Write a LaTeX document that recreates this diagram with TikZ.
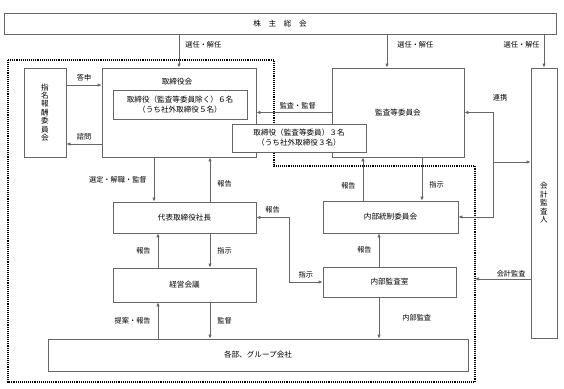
\documentclass[tikz,border=0pt]{standalone}
\usepackage{fontspec}
\setmainfont{Noto Sans CJK JP}
\usetikzlibrary{arrows.meta}

\begin{document}
\begin{tikzpicture}[
        x=1pt, y=-1pt,
        box/.style={draw=black!60, line width=0.7pt, fill=white, inner sep=1pt, align=center,
                    font=\fontsize{7.6}{10.2}\selectfont},
        lbl/.style={inner sep=1pt, font=\fontsize{7.2}{8.5}\selectfont},
        link/.style={draw=black!60, line width=0.7pt},
        >={Latex[length=4pt,width=3.4pt]}
        ]
        \useasboundingbox (0,0) rectangle (564,388);
        \draw[densely dotted, line width=1.1pt] (8,60) -- (274,60) -- (274,166) -- (475,166) -- (475,382) -- (8,382) -- cycle;

        \node[box, minimum width=552pt, minimum height=21pt] (soukai) at (280,23.5) {株　主　総　会};
        \node[box, minimum width=154pt, minimum height=89pt] (board) at (179,112.5) {};
        \node[lbl, font=\fontsize{7.6}{9}\selectfont] (boardlbl) at (177,82) {取締役会};
        \node[box, minimum width=134pt, minimum height=29pt] (inner) at (180,104.5) {取締役（監査等委員除く）６名\\（うち社外取締役５名）};
        \node[box, minimum width=42pt, minimum height=89pt, font=\fontsize{7.6}{8.4}\selectfont] (nomination) at (45,112.5) {指\\名\\報\\酬\\委\\員\\会};
        \node[box, minimum width=132pt, minimum height=89pt] (acm) at (398,112.5) {監査等委員会};
        \node[box, minimum width=134pt, minimum height=28pt] (auditdir) at (299,138) {取締役（監査等委員）３名\\（うち社外取締役３名）};
        \node[box, minimum width=26pt, minimum height=270pt, font=\fontsize{7.6}{8.5}\selectfont] (auditor) at (544,203) {会\\計\\監\\査\\人};
        \node[box, minimum width=143pt, minimum height=31pt] (ceo) at (184.5,217.5) {代表取締役社長};
        \node[box, minimum width=143pt, minimum height=34pt] (mgmt) at (184.5,285) {経営会議};
        \node[box, minimum width=420pt, minimum height=32pt] (depts) at (258,355) {各部、グループ会社};
        \node[box, minimum width=135pt, minimum height=32pt] (icc) at (390.5,217) {内部統制委員会};
        \node[box, minimum width=133pt, minimum height=30pt] (iad) at (389.5,282) {内部監査室};

        \coordinate (cola) at (154,0);
        \coordinate (colb) at (210,0);
        \coordinate (colc) at (158,0);
        \coordinate (cold) at (363,0);
        \coordinate (cole) at (422,0);
        \coordinate (colf) at (379,0);
        \coordinate (colg) at (493,0);
        \coordinate (bendx) at (289,0);
        \coordinate (linkmid) at (493,162);
        \coordinate (auditend) at (475,279);

        \draw[link,->] (board.north |- soukai.south) -- node[lbl,right=5pt,pos=.32]{選任・解任} (board.north);
        \draw[link,->] ([xshift=-11pt]acm.north |- soukai.south) -- node[lbl,right=9pt,pos=.32]{選任・解任} ([xshift=-11pt]acm.north);
        \draw[link,->] (auditor.north |- soukai.south) -- node[lbl,left=3pt,pos=.32]{選任・解任} (auditor.north);

        \draw[link,->] ([yshift=27.5pt]nomination.east) -- node[lbl,above=3pt]{答申} ([yshift=27.5pt]board.west);
        \draw[link,->] ([yshift=-31.5pt]board.west) -- node[lbl,above=3pt]{諮問} ([yshift=-31.5pt]nomination.east);
        \draw[link,->] (acm.west) -- node[lbl,above=2pt,pos=.45]{監査・監督} (board.east);

        \draw[link,->] (board.south -| cola) -- node[lbl,left=6pt]{選定・解職・監督} (ceo.north -| cola);
        \draw[link,->] (ceo.north -| colb) -- node[lbl,right=6pt,pos=.4]{報告} (board.south -| colb);
        \draw[link,->] (mgmt.north -| colc) -- node[lbl,left=6pt]{報告} (ceo.south -| colc);
        \draw[link,->] (ceo.south -| colb) -- node[lbl,right=6pt]{指示} (mgmt.north -| colb);
        \draw[link,->] (depts.north -| colc) -- node[lbl,left=6pt]{提案・報告} (mgmt.south -| colc);
        \draw[link,->] (mgmt.south -| colb) -- node[lbl,right=6pt]{監督} (depts.north -| colb);

        \draw[link,->] (icc.north -| cold) -- node[lbl,left=6pt,pos=.34]{報告} (acm.south -| cold);
        \draw[link,->] (acm.south -| cole) -- node[lbl,right=6pt,pos=.64]{指示} (icc.north -| cole);
        \draw[link,->] (iad.north -| colf) -- node[lbl,left=6pt]{報告} (icc.south -| colf);
        \draw[link,->] (iad.south -| colf) -- node[lbl,right=22pt]{内部監査} (depts.north -| colf);

        \draw[link,<->] (ceo.east) -- node[lbl,above=3pt]{報告} (ceo.east -| bendx) -- (iad.west -| bendx) -- node[lbl,above=3pt]{指示} (iad.west);

        \draw[link,<->] (acm.east) -- (acm.east -| colg) -- (icc.east -| colg) -- (icc.east);
        \draw[link,->] (linkmid) -- (linkmid -| auditor.west);
        \node[lbl] (linklbl) at (500,98) {連携};
        \draw[link,->] (auditend -| auditor.west) -- node[lbl,above=1pt,pos=.35]{会計監査} (auditend);
      \end{tikzpicture}
\end{document}
